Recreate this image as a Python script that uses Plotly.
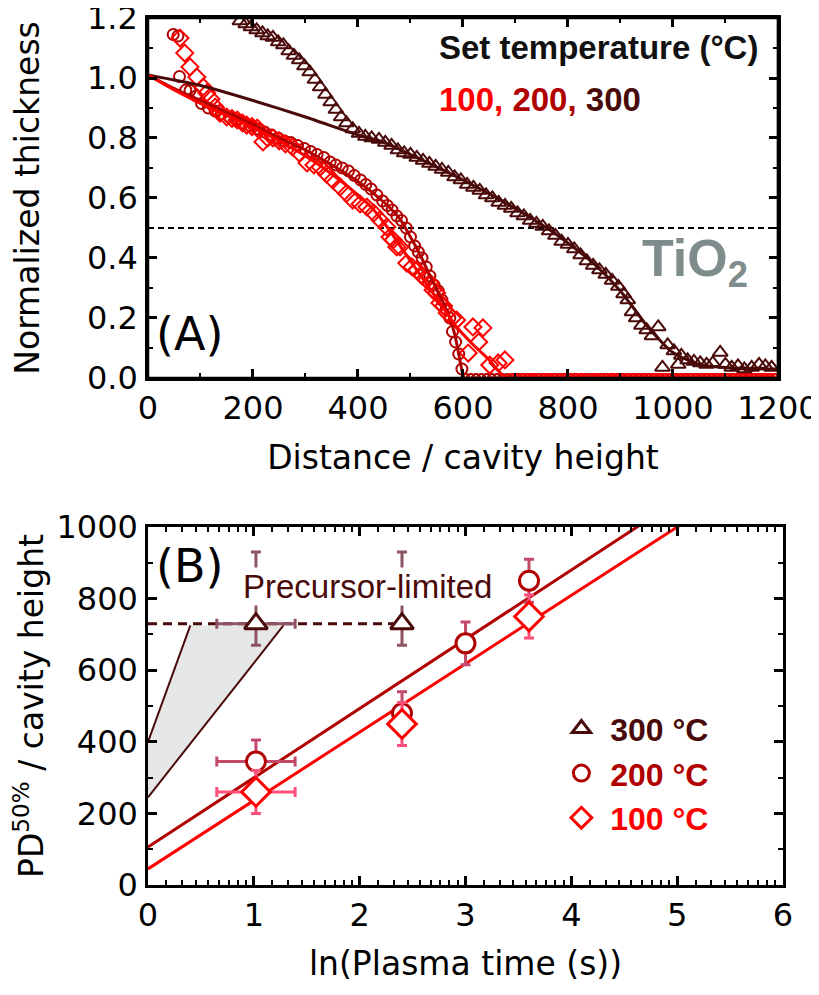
import math
import plotly.graph_objects as go

# ---------------- Panel A data ----------------
t300_x = [175,186,196,207,218,228,238,248,258,268,278,288,298,308,318,328,338,348,358,368,
          378,390,402,414,426,440,452,464,476,488,500,512,524,536,548,560,572,584,596,608,
          620,632,644,656,668,680,692,704,716,728,740,752,764,776,788,800,812,824,836,848,
          860,872,884,896,906,914,922,930,940,950,960,972,980,990,1002,1010,1016,1028,1040,1052,
          1064,1076,1090,1100,1112,1124,1136,1150,1164,1176,1188]
t300_y = [1.19,1.18,1.17,1.16,1.15,1.14,1.135,1.12,1.11,1.09,1.075,1.06,1.04,1.02,0.995,0.97,0.945,0.92,0.895,0.87,
          0.85,0.83,0.815,0.805,0.80,0.795,0.785,0.775,0.76,0.75,0.745,0.735,0.725,0.715,0.705,0.695,0.685,0.67,0.66,0.645,
          0.635,0.625,0.61,0.60,0.585,0.575,0.565,0.55,0.54,0.525,0.515,0.505,0.49,0.475,0.455,0.445,0.43,0.41,0.39,0.375,
          0.36,0.345,0.325,0.305,0.28,0.26,0.22,0.20,0.175,0.16,0.14,0.17,0.035,0.11,0.09,0.045,0.075,0.06,0.055,0.05,
          0.045,0.05,0.085,0.045,0.035,0.04,0.03,0.035,0.045,0.04,0.035]

c200_x = [48,57,60,72,80,92,102,115,128,140,155,168,180,195,210,222,235,248,260,272,
          285,298,310,322,335,347,358,370,382,393,405,415,425,436,447,456,465,474,483,492,
          500,508,515,522,530,537,545,553,560,568,575,580,586,592,598]
c200_y = [1.145,1.14,1.005,0.96,0.958,0.94,0.915,0.90,0.89,0.88,0.87,0.86,0.85,0.84,0.83,0.82,0.81,0.80,0.79,0.785,
          0.775,0.765,0.755,0.745,0.735,0.72,0.71,0.70,0.69,0.675,0.66,0.645,0.63,0.61,0.59,0.575,0.56,0.54,0.525,0.50,
          0.47,0.44,0.42,0.40,0.37,0.34,0.31,0.29,0.26,0.23,0.20,0.155,0.12,0.08,0.03]

d100_x = [61,70,80,93,105,112,120,128,137,150,160,170,180,188,198,208,219,228,238,
          250,262,275,288,303,316,328,340,352,366,378,390,404,417,430,442,455,461,467,474,
          480,493,503,512,522,531,537,543,550,556,563,570,580,588,610,619,630,638,651,667,680]
d100_y = [1.133,1.083,1.037,1.003,0.97,0.95,0.93,0.903,0.883,0.87,0.865,0.86,0.85,0.843,0.838,0.833,0.787,0.80,0.80,
          0.79,0.78,0.77,0.75,0.717,0.71,0.703,0.68,0.66,0.637,0.615,0.593,0.58,0.57,0.55,0.527,0.503,0.47,0.46,0.437,
          0.437,0.383,0.37,0.36,0.34,0.327,0.317,0.293,0.283,0.25,0.24,0.217,0.20,0.193,0.083,0.17,0.12,0.167,0.043,0.05,0.06]

z200_x = [605,615,625,635,645,655,665,675,685,695,705,715,725,735,745,755,765,775,785,795,
          805,815,825,835,845,855,865,875,885,895,905,915,925,935,945,955,965,975,985,995,
          1005,1015,1025,1035,1045,1055,1065,1075,1085,1095,1105,1115,1125,1135,1145,1155,1165,1175,1185,1195]
z100_x = [692,702,712,722,732,742,752,762,772,782,792,802,812,822,832,842,852,862,872,882,
          892,902,912,922,932,942,952,962,972,982,992,1002,1012,1022,1032,1042,1052,1062,1072,1082,
          1092,1102,1112,1122,1132,1142,1152,1162,1172,1182,1192]
zero_level = 0.0

f300_x = [0,100,200,300,400,450,500,600,700,760,800,850,900,950,1000,1050,1100,1200]
f300_y = [1.01,0.975,0.925,0.87,0.81,0.785,0.745,0.66,0.565,0.50,0.45,0.38,0.29,0.175,0.085,0.045,0.035,0.03]
f200_x = [0,50,100,150,200,250,300,350,400,450,480,500,520,540,560,575,585,593,600,603,1200]
f200_y = [1.01,0.965,0.925,0.885,0.845,0.80,0.76,0.71,0.655,0.585,0.53,0.47,0.405,0.33,0.26,0.20,0.14,0.07,0.01,0.0,0.0]
f100_x = [0,50,100,150,200,250,300,350,400,430,457,500,550,588,620,650,684,1200]
f100_y = [1.01,0.96,0.915,0.875,0.835,0.79,0.74,0.68,0.61,0.56,0.50,0.39,0.265,0.17,0.11,0.06,0.0,0.0]

half_level = 0.5
a_xticks = [0, 200, 400, 600, 800, 1000, 1200]
a_yticks = [0.0, 0.2, 0.4, 0.6, 0.8, 1.0, 1.2]

# ---------------- Panel B data ----------------
b300_x = [1.02, 2.40]
b300_y = [730, 730]
b300_xerr = [0.37, 0.0]
b300_yerr_up = [200, 200]
b300_yerr_dn = [60, 60]

b200_x = [1.02, 2.40, 3.00, 3.60]
b200_y = [345, 480, 675, 850]
b200_xerr = [0.37, 0.0, 0.0, 0.0]
b200_yerr = [60, 60, 60, 60]

b100_x = [1.02, 2.40, 3.60]
b100_y = [260, 450, 750]
b100_xerr = [0.37, 0.0, 0.0]
b100_yerr = [60, 60, 60]

fit_intercepts = [106, 45]      # 200 C, 100 C
fit_slopes = [193.5, 191.0]

limit_x = [0, 2.45]
limit_y = [730, 730]
shade_x = [0, 0.40, 1.28, 0]
shade_y = [400, 725, 725, 245]
edge1_x = [0, 0.40]
edge1_y = [400, 725]
edge2_x = [0, 1.28]
edge2_y = [245, 725]

b_xticks = [0, 1, 2, 3, 4, 5, 6]
b_yticks = [0, 200, 400, 600, 800, 1000]

# ---------------- colours ----------------
C100 = "#ff0000"
C200 = "#b00000"
C300 = "#4a0a0a"
E100 = "#ff4f7b"
E200 = "#c44a6c"
E300 = "#8e5461"

fig = go.Figure()

# Panel A
fig.add_trace(go.Scatter(x=[0, 1200], y=[half_level, half_level], mode="lines",
                         line=dict(color="black", width=1.8, dash="6px,4px"),
                         showlegend=False, xaxis="x", yaxis="y"))
fig.add_trace(go.Scatter(x=z200_x, y=[zero_level] * len(z200_x), mode="markers",
                         marker=dict(symbol="circle-open", size=8, color=C200, line=dict(width=2)),
                         showlegend=False, xaxis="x", yaxis="y"))
fig.add_trace(go.Scatter(x=z100_x, y=[zero_level] * len(z100_x), mode="markers",
                         marker=dict(symbol="circle-open", size=8, color=C100, line=dict(width=2)),
                         showlegend=False, xaxis="x", yaxis="y"))
fig.add_trace(go.Scatter(x=t300_x, y=t300_y, mode="markers",
                         marker=dict(symbol="triangle-up-open", size=13, color=C300, line=dict(width=2)),
                         showlegend=False, xaxis="x", yaxis="y"))
fig.add_trace(go.Scatter(x=c200_x, y=c200_y, mode="markers",
                         marker=dict(symbol="circle-open", size=11, color=C200, line=dict(width=2)),
                         showlegend=False, xaxis="x", yaxis="y"))
fig.add_trace(go.Scatter(x=d100_x, y=d100_y, mode="markers",
                         marker=dict(symbol="diamond-open", size=13, color=C100, line=dict(width=2)),
                         showlegend=False, xaxis="x", yaxis="y"))
for fx, fy, col in [(f300_x, f300_y, C300), (f200_x, f200_y, C200), (f100_x, f100_y, C100)]:
    fig.add_trace(go.Scatter(x=fx, y=fy, mode="lines",
                             line=dict(color=col, width=3, shape="spline", smoothing=0.6),
                             showlegend=False, xaxis="x", yaxis="y"))
# empty trace that puts the top/right frame axes of panel A on the page
fig.add_trace(go.Scatter(x=[], y=[], mode="markers", showlegend=False, hoverinfo="skip",
                         xaxis="x3", yaxis="y3"))

# Panel B
fig.add_trace(go.Scatter(x=shade_x, y=shade_y, mode="lines", fill="toself",
                         fillcolor="#e6e8e8", line=dict(width=0),
                         showlegend=False, xaxis="x2", yaxis="y2"))
for ex, ey in [(edge1_x, edge1_y), (edge2_x, edge2_y)]:
    fig.add_trace(go.Scatter(x=ex, y=ey, mode="lines", line=dict(color=C300, width=2),
                             showlegend=False, xaxis="x2", yaxis="y2"))
fig.add_trace(go.Scatter(x=limit_x, y=limit_y, mode="lines",
                         line=dict(color=C300, width=3, dash="9px,6px"),
                         showlegend=False, xaxis="x2", yaxis="y2"))
for a, b, col in zip(fit_intercepts, fit_slopes, [C200, C100]):
    fig.add_trace(go.Scatter(x=[0, 6], y=[a, a + 6 * b], mode="lines",
                             line=dict(color=col, width=3),
                             showlegend=False, xaxis="x2", yaxis="y2"))

NB = "\u00a0"
fig.add_trace(go.Scatter(
    x=b300_x, y=b300_y, mode="markers",
    name=f'<b><span style="color:{C300}">{NB}300 °C</span></b>',
    marker=dict(symbol="triangle-up", size=20, color="white", line=dict(color=C300, width=3)),
    error_x=dict(type="data", array=b300_xerr, color=E300, thickness=3, width=5),
    error_y=dict(type="data", symmetric=False, array=b300_yerr_up, arrayminus=b300_yerr_dn,
                 color=E300, thickness=3, width=5),
    xaxis="x2", yaxis="y2"))
fig.add_trace(go.Scatter(
    x=b200_x, y=b200_y, mode="markers",
    name=f'<b><span style="color:{C200}">{NB}200 °C</span></b>',
    marker=dict(symbol="circle", size=19, color="white", line=dict(color=C200, width=3)),
    error_x=dict(type="data", array=b200_xerr, color=E200, thickness=3, width=5),
    error_y=dict(type="data", array=b200_yerr, color=E200, thickness=3, width=5),
    xaxis="x2", yaxis="y2"))
fig.add_trace(go.Scatter(
    x=b100_x, y=b100_y, mode="markers",
    name=f'<b><span style="color:{C100}">{NB}100 °C</span></b>',
    marker=dict(symbol="diamond", size=22, color="white", line=dict(color=C100, width=3)),
    error_x=dict(type="data", array=b100_xerr, color=E100, thickness=3, width=5),
    error_y=dict(type="data", array=b100_yerr, color=E100, thickness=3, width=5),
    xaxis="x2", yaxis="y2"))

TICKFONT = dict(family="DejaVu Sans", size=32, color="black")
TITLEFONT = dict(family="DejaVu Sans", size=33, color="black")
axis_common = dict(showline=True, linecolor="black", linewidth=2.5, mirror="ticks",
                   ticks="inside", ticklen=9, tickwidth=2.5, tickcolor="black",
                   showgrid=False, zeroline=False, tickfont=TICKFONT, automargin=False,
                   ticklabeloverflow="allow")
MINOR = dict(ticks="inside", ticklen=5, tickwidth=2, tickcolor="black")

# log-style minor ticks on the ln(time) axis
b_minor = []
for k in range(6):
    for i in range(1, 9):
        b_minor.append(k + math.log(1 + i * (math.e - 1) / 9))

A_XDOM = [0, 0.992]
A_YDOM = [0.5848, 1]

# the page adds an 8 px body margin, so the figure is 8 px smaller and shifted
fig.update_layout(
    width=811, height=987,
    margin=dict(l=140, r=36, t=10, b=110),
    paper_bgcolor="white", plot_bgcolor="white",
    xaxis=dict(domain=A_XDOM, range=[0, 1200], anchor="y",
               tickvals=a_xticks, ticktext=[str(v) for v in a_xticks],
               minor=dict(dtick=100, **MINOR),
               title=dict(text="Distance / cavity height", font=TITLEFONT, standoff=20),
               **axis_common),
    yaxis=dict(domain=A_YDOM, range=[0, 1.2], anchor="x",
               tickvals=a_yticks, ticktext=[f"{v:.1f}" for v in a_yticks],
               minor=dict(dtick=0.1, **MINOR),
               title=dict(text="Normalized thickness", font=TITLEFONT, standoff=44),
               ticklabelstandoff=1,
               **axis_common),
    xaxis3=dict(domain=A_XDOM, range=[0, 1200], anchor="y3", overlaying="x", side="top",
                tickvals=a_xticks, showticklabels=False, showline=True, linecolor="black",
                linewidth=2.5, ticks="inside", ticklen=9, tickwidth=2.5, tickcolor="black",
                minor=dict(dtick=100, **MINOR), showgrid=False, zeroline=False, automargin=False),
    yaxis3=dict(domain=A_YDOM, range=[0, 1.2], anchor="x3", overlaying="y", side="right",
                tickvals=a_yticks, showticklabels=False, showline=True, linecolor="black",
                linewidth=2.5, ticks="inside", ticklen=9, tickwidth=2.5, tickcolor="black",
                minor=dict(dtick=0.1, **MINOR), showgrid=False, zeroline=False, automargin=False),
    xaxis2=dict(domain=[0, 1], range=[0, 6], anchor="y2",
                tickvals=b_xticks, ticktext=[str(v) for v in b_xticks],
                minor=dict(tickmode="array", tickvals=b_minor, **MINOR),
                title=dict(text="ln(Plasma time (s))", font=TITLEFONT, standoff=19),
                **axis_common),
    yaxis2=dict(domain=[0, 0.4129], range=[0, 1000], anchor="x2",
                tickvals=b_yticks, ticktext=[str(v) for v in b_yticks],
                minor=dict(dtick=100, **MINOR),
                title=dict(text="PD<sup>50%</sup> / cavity height", font=TITLEFONT, standoff=20),
                ticklabelstandoff=1,
                **axis_common),
    legend=dict(x=0.651, y=0.212, xanchor="left", yanchor="top",
                bgcolor="rgba(0,0,0,0)",
                font=dict(family="Liberation Sans", size=32),
                itemsizing="trace"),
    shapes=[
        dict(type="rect", xref="x domain", yref="y domain", x0=0, x1=1, y0=0, y1=1,
             line=dict(color="black", width=2.5), fillcolor="rgba(0,0,0,0)", layer="above"),
    ],
    annotations=[
        dict(xref="x", yref="y", x=550, y=1.103, xanchor="left", yanchor="middle",
             text="<b>Set temperature (°C)</b>", showarrow=False,
             font=dict(family="Liberation Sans", size=33, color="#111111")),
        dict(xref="x", yref="y", x=550, y=0.93, xanchor="left", yanchor="middle",
             text=(f'<b><span style="color:{C100}">100,</span> '
                   f'<span style="color:{C200}">200,</span> '
                   f'<span style="color:{C300}">300</span></b>'),
             showarrow=False, font=dict(family="Liberation Sans", size=33)),
        dict(xref="x", yref="y", x=938, y=0.385, xanchor="left", yanchor="middle",
             text="<b>TiO<sub>2</sub></b>", showarrow=False,
             font=dict(family="Liberation Sans", size=52, color="#7f8c8c")),
        dict(xref="x", yref="y", x=12, y=0.147, xanchor="left", yanchor="middle",
             text="(A)", showarrow=False,
             font=dict(family="DejaVu Sans", size=46, color="black")),
        dict(xref="x2", yref="y2", x=0.06, y=891, xanchor="left", yanchor="middle",
             text="(B)", showarrow=False,
             font=dict(family="DejaVu Sans", size=46, color="black")),
        dict(xref="x2", yref="y2", x=0.89, y=835, xanchor="left", yanchor="middle",
             text="Precursor-limited", showarrow=False, bgcolor="white", borderpad=0,
             font=dict(family="Liberation Sans", size=33, color=C300)),
    ],
)

fig.write_html("out.html")
